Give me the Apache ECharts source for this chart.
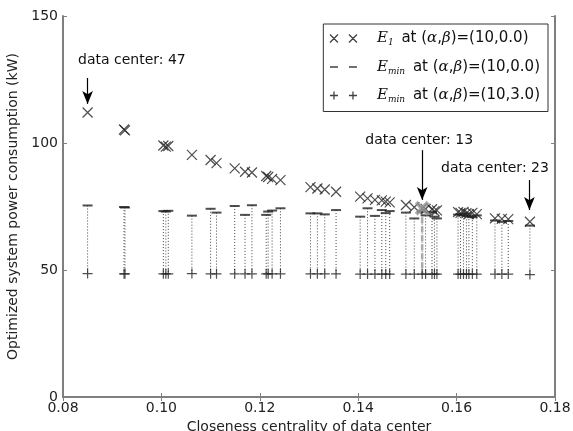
<!DOCTYPE html>
<html>
<head>
<meta charset="utf-8">
<script src="https://cdn.jsdelivr.net/npm/echarts@6/dist/echarts.min.js"></script>
<style>
  html, body { margin: 0; padding: 0; background: #fff; }
  #chart { width: 573px; height: 431px; }
</style>
</head>
<body>
<div id="chart"></div>
<script>
// Closeness centrality of each data center
const centrality = [
  0.0850, 0.0924, 0.0926, 0.1004, 0.1009, 0.1014, 0.1062, 0.1100, 0.1112, 0.1149,
  0.1170, 0.1184, 0.1213, 0.1217, 0.1225, 0.1242, 0.1303, 0.1317, 0.1332, 0.1355,
  0.1404, 0.1419, 0.1434, 0.1448, 0.1456, 0.1464, 0.1497, 0.1514, 0.1530, 0.1537,
  0.1550, 0.1555, 0.1560, 0.1603, 0.1608, 0.1614, 0.1620, 0.1625, 0.1632, 0.1641,
  0.1678, 0.1692, 0.1705, 0.1749
];
// E1 at (alpha, beta) = (10, 0.0)
const e1Beta0 = [
  112.0, 105.3, 105.0, 99.0, 98.6, 98.8, 95.3, 93.3, 92.1, 90.0,
  88.7, 88.4, 87.0, 86.6, 85.9, 85.4, 82.6, 82.1, 81.7, 80.8,
  78.9, 78.2, 77.6, 77.4, 76.9, 76.6, 75.6, 74.7, 74.3, 74.0,
  73.9, 73.2, 73.5, 72.8, 72.5, 72.9, 72.4, 72.0, 72.5, 72.0,
  70.3, 70.1, 70.0, 69.0
];
// Emin at (alpha, beta) = (10, 0.0)
const eminBeta0 = [
  75.4, 74.8, 74.6, 73.2, 73.0, 73.3, 71.4, 74.1, 72.6, 75.2,
  71.7, 75.5, 71.7, 73.0, 73.4, 74.3, 72.3, 72.3, 71.9, 73.6,
  71.0, 74.3, 71.3, 73.6, 72.4, 73.2, 72.6, 70.3, 73.0, 71.5,
  72.8, 71.0, 70.3, 71.8, 72.0, 71.5, 72.3, 71.2, 70.8, 71.5,
  69.5, 69.0, 69.3, 67.5
];
// Emin at (alpha, beta) = (10, 3.0)
const eminBeta3 = [
  48.6, 48.5, 48.5, 48.5, 48.5, 48.5, 48.6, 48.5, 48.5, 48.5,
  48.5, 48.5, 48.5, 48.5, 48.5, 48.5, 48.5, 48.5, 48.5, 48.5,
  48.4, 48.4, 48.4, 48.4, 48.4, 48.4, 48.4, 48.4, 48.4, 48.4,
  48.4, 48.4, 48.4, 48.4, 48.4, 48.4, 48.4, 48.4, 48.4, 48.4,
  48.4, 48.4, 48.4, 48.2
];
const highlightIndex = 28; // data center 13

const xTicks = [0.08, 0.10, 0.12, 0.14, 0.16, 0.18];
const yTicks = [0, 50, 100, 150];

// Annotated data centers: label, arrow x, arrow start/end y, label position
const noteLabels = ['data center: 47', 'data center: 13', 'data center: 23'];
const noteArrowX = [0.0850, 0.1530, 0.1748];
const noteArrowFrom = [125.6, 97.2, 85.4];
const noteArrowTo = [115.4, 77.6, 73.6];
const noteTextX = [0.0940, 0.1524, 0.1678];
const noteTextY = [132.7, 101.2, 90.2];

const crossPath = 'path://M0,0L10,10M10,0L0,10';
const plusPath = 'path://M5,0L5,10M0,5L10,5';
const crossIcon = 'path://M0,0L8,8M8,0L0,8M19,0L27,8M27,0L19,8';
const plusIcon = 'path://M4,0L4,8M0,4L8,4M23,0L23,8M19,4L27,4';
const dashIcon = 'path://M0,0M27,8M0,3.2L8,3.2L8,4.8L0,4.8ZM19,3.2L27,3.2L27,4.8L19,4.8Z';

const axisGray = '#7f7f7f';
const markColor = '#222';
const font = 'DejaVu Sans';

const chart = echarts.init(document.getElementById('chart'), null, { renderer: 'canvas' });

const dropData = centrality.map((c, i) => [c, eminBeta0[i], eminBeta3[i], i]);

const arrowLines = noteLabels.map((_, i) => [
  { coord: [noteArrowX[i], noteArrowFrom[i]] },
  { coord: [noteArrowX[i], noteArrowTo[i]] }
]);
const notePoints = noteLabels.map((t, i) => ({
  coord: [noteTextX[i], noteTextY[i]],
  label: { formatter: t }
}));

const legendFormatter = function (name) {
  if (name === 'E1') return '{sp|}{e|E}{s|1} at ({g|α},{g|β})=(10,0.0)';
  if (name === 'EminB0') return '{sp|}{e|E}{s|min} at ({g|α},{g|β})=(10,0.0)';
  return '{sp|}{e|E}{s|min} at ({g|α},{g|β})=(10,3.0)';
};

const commonX = {
  type: 'value', min: 0.08, max: 0.18, interval: 0.02,
  axisLine: { show: true, lineStyle: { color: axisGray, width: 2 } },
  axisTick: { show: true, inside: true, length: 4, lineStyle: { color: axisGray } },
  splitLine: { show: false }
};
const commonY = {
  type: 'value', min: 0, max: 150, interval: 50,
  axisLine: { show: true, lineStyle: { color: axisGray, width: 2 } },
  axisTick: { show: true, inside: true, length: 4, lineStyle: { color: axisGray } },
  splitLine: { show: false }
};

chart.setOption({
  animation: false,
  backgroundColor: '#fff',
  grid: { left: 63, right: 18, top: 16, bottom: 34, containLabel: false, outerBoundsMode: 'none' },
  xAxis: [
    Object.assign({}, commonX, {
      position: 'bottom',
      name: 'Closeness centrality of data center',
      nameLocation: 'middle', nameGap: 16,
      nameTextStyle: { fontFamily: font, fontSize: 14, color: '#222' },
      axisLabel: {
        fontFamily: font, fontSize: 14, color: '#222', margin: 4,
        formatter: v => xTicks.includes(+v.toFixed(2)) ? v.toFixed(2) : ''
      }
    }),
    Object.assign({}, commonX, { position: 'top', axisLabel: { show: false } })
  ],
  yAxis: [
    Object.assign({}, commonY, {
      position: 'left',
      name: 'Optimized system power consumption (kW)',
      nameLocation: 'middle', nameGap: 37,
      nameTextStyle: { fontFamily: font, fontSize: 14, color: '#222' },
      axisLabel: {
        fontFamily: font, fontSize: 14, color: '#222', margin: 5,
        formatter: v => yTicks.includes(v) ? String(v) : ''
      }
    }),
    Object.assign({}, commonY, { position: 'right', axisLabel: { show: false } })
  ],
  legend: {
    orient: 'vertical',
    right: 25, top: 24,
    padding: [7, 8, 7, 6],
    itemGap: 12,
    itemWidth: 27, itemHeight: 9,
    borderColor: '#333', borderWidth: 1,
    backgroundColor: '#fff',
    selectedMode: false,
    formatter: legendFormatter,
    textStyle: {
      fontFamily: font, fontSize: 15, color: '#111',
      rich: {
        sp: { width: 15 },
        e: { fontFamily: 'DejaVu Serif', fontStyle: 'italic', fontSize: 15, color: '#111' },
        s: { fontFamily: 'DejaVu Serif', fontStyle: 'italic', fontSize: 9, color: '#111', verticalAlign: 'bottom', padding: [9, 3, 0, 0] },
        g: { fontFamily: 'DejaVu Serif', fontStyle: 'italic', fontSize: 15, color: '#111' }
      }
    },
    data: [
      { name: 'E1', icon: crossIcon, itemStyle: { color: 'transparent', borderColor: '#111', borderWidth: 1.3 } },
      { name: 'EminB0', icon: dashIcon, itemStyle: { color: '#111', borderWidth: 0 } },
      { name: 'EminB3', icon: plusIcon, itemStyle: { color: 'transparent', borderColor: '#111', borderWidth: 1.3 } }
    ]
  },
  series: [
    {
      // dotted drop lines from Emin(beta=0) down to Emin(beta=3)
      type: 'custom',
      name: 'drop',
      silent: true,
      z: 1,
      data: dropData,
      renderItem: function (params, api) {
        const x = api.value(0);
        const p1 = api.coord([x, api.value(1)]);
        const p2 = api.coord([x, api.value(2)]);
        const hl = api.value(3) === highlightIndex;
        const children = [{
          type: 'line',
          shape: { x1: p1[0], y1: p1[1], x2: p2[0], y2: p2[1] },
          style: { stroke: '#444', lineWidth: 1, lineDash: [1, 2] }
        }];
        if (hl) {
          const p0 = api.coord([x, e1Beta0[highlightIndex]]);
          children.push({
            type: 'line',
            shape: { x1: p0[0], y1: p0[1], x2: p2[0], y2: p2[1] },
            style: { stroke: '#aaa', lineWidth: 2.5, lineDash: [6, 3] }
          });
        }
        return { type: 'group', children: children };
      }
    },
    {
      name: 'E1',
      type: 'scatter',
      symbol: crossPath,
      symbolSize: 10,
      z: 3,
      itemStyle: { color: 'transparent', borderColor: markColor, borderWidth: 1.2 },
      data: centrality.map((c, i) => [c, e1Beta0[i]]),
      markLine: {
        silent: true,
        symbol: ['none', 'arrow'],
        symbolSize: [8, 13],
        lineStyle: { color: '#000', width: 1.2, type: 'solid' },
        label: { show: false },
        data: arrowLines
      },
      markPoint: {
        silent: true,
        symbol: 'circle',
        symbolSize: 1,
        itemStyle: { color: 'transparent' },
        label: { show: true, position: 'inside', fontFamily: font, fontSize: 14, color: '#111' },
        data: notePoints
      }
    },
    {
      name: 'highlight',
      type: 'scatter',
      symbol: crossPath,
      symbolSize: 12,
      z: 4,
      silent: true,
      itemStyle: { color: 'transparent', borderColor: '#999', borderWidth: 4 },
      data: [[centrality[highlightIndex], e1Beta0[highlightIndex]]]
    },
    {
      name: 'EminB0',
      type: 'scatter',
      symbol: 'rect',
      symbolSize: [10, 2],
      z: 2,
      itemStyle: { color: markColor },
      data: centrality.map((c, i) => [c, eminBeta0[i]])
    },
    {
      name: 'EminB3',
      type: 'scatter',
      symbol: plusPath,
      symbolSize: 10,
      z: 2,
      itemStyle: { color: 'transparent', borderColor: markColor, borderWidth: 1.2 },
      data: centrality.map((c, i) => [c, eminBeta3[i]])
    }
  ]
});
</script>
</body>
</html>
